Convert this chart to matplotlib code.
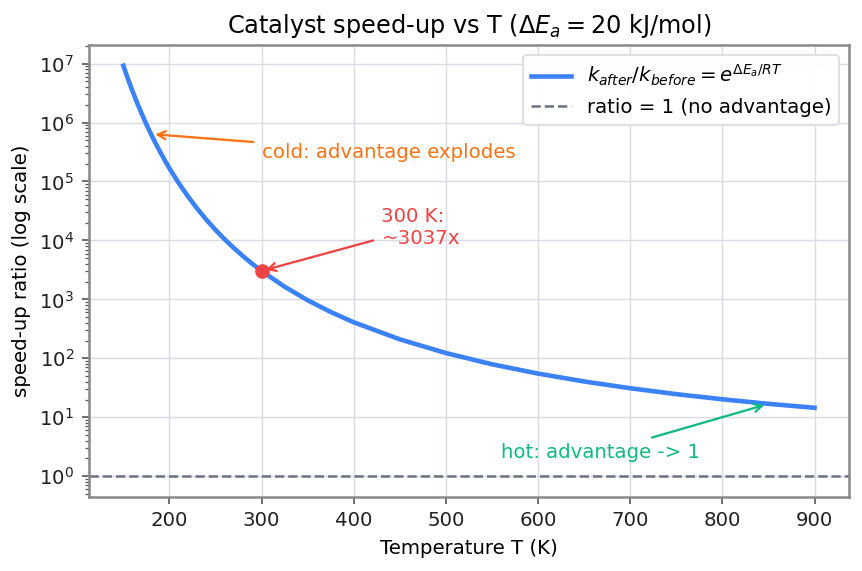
import numpy as np
import matplotlib
matplotlib.use('Agg')
import matplotlib.pyplot as plt

# valores: T (K) y cociente k_after/k_before
T = [150, 155, 160, 165, 170, 175, 180, 185, 190, 195, 200, 210, 220, 230,
     240, 250, 260, 270, 280, 290, 300, 325, 350, 375, 400, 450, 500, 550,
     600, 650, 700, 750, 800, 850, 900]
ratio = [9.22e6, 5.50e6, 3.39e6, 2.15e6, 1.40e6, 9.33e5, 6.37e5, 4.44e5,
         3.16e5, 2.28e5, 1.67e5, 9.44e4, 5.61e4, 3.49e4, 2.25e4, 1.51e4,
         1.04e4, 7.41e3, 5.38e3, 4.00e3, 3037, 1.64e3, 966, 611, 409, 210,
         123, 79.3, 55.1, 40.5, 31.1, 24.7, 20.2, 16.9, 14.5]

T_mark = 300
ratio_mark = 3037
T_cold, ratio_cold = 180, 6.37e5
T_hot, ratio_hot = 850, 16.9

azul = '#3b82f6'
rojo = '#ef4444'
naranja = '#f97316'
verde = '#10b981'
gris = '#6b7280'

plt.rcParams['font.size'] = 9.5
fig, ax = plt.subplots(figsize=(862/150, 571/150), dpi=150)
fig.subplots_adjust(left=0.103, right=0.985, top=0.921, bottom=0.130)

ax.plot(T, ratio, color=azul, lw=2.2,
        label=r'$k_{after}/k_{before} = e^{\Delta E_a/RT}$')
ax.axhline(1, color=gris, ls='--', lw=1.2, label='ratio = 1 (no advantage)')
ax.set_yscale('log')

ax.plot([T_mark], [ratio_mark], 'o', color=rojo, ms=6, zorder=5)
ax.annotate('300 K:\n~3037x', xy=(T_mark, ratio_mark), xytext=(430, 8.7e3),
            color=rojo, fontsize=9.5,
            arrowprops=dict(arrowstyle='->', color=rojo, lw=1.1))
ax.annotate('cold: advantage explodes', xy=(T_cold, ratio_cold),
            xytext=(300, 2.5e5), color=naranja, fontsize=9.5,
            arrowprops=dict(arrowstyle='->', color=naranja, lw=1.1))
ax.annotate('hot: advantage -> 1', xy=(T_hot, ratio_hot), xytext=(560, 2.05),
            color=verde, fontsize=9.5,
            arrowprops=dict(arrowstyle='->', color=verde, lw=1.1))

ax.set_title(r'Catalyst speed-up vs T ($\Delta E_a = 20$ kJ/mol)', fontsize=11.5)
ax.set_xlabel('Temperature T (K)')
ax.set_ylabel('speed-up ratio (log scale)')
ax.grid(True, color='#d9dde3', lw=0.7)
ax.set_axisbelow(True)
for s in ax.spines.values():
    s.set_color('#888888')
    s.set_linewidth(1.2)
ax.tick_params(which='both', color='#555555', labelcolor='#222222')
ax.legend(loc='upper right', fontsize=9.5, framealpha=0.9, edgecolor='#dddddd')

plt.savefig('out.png', dpi=150)
